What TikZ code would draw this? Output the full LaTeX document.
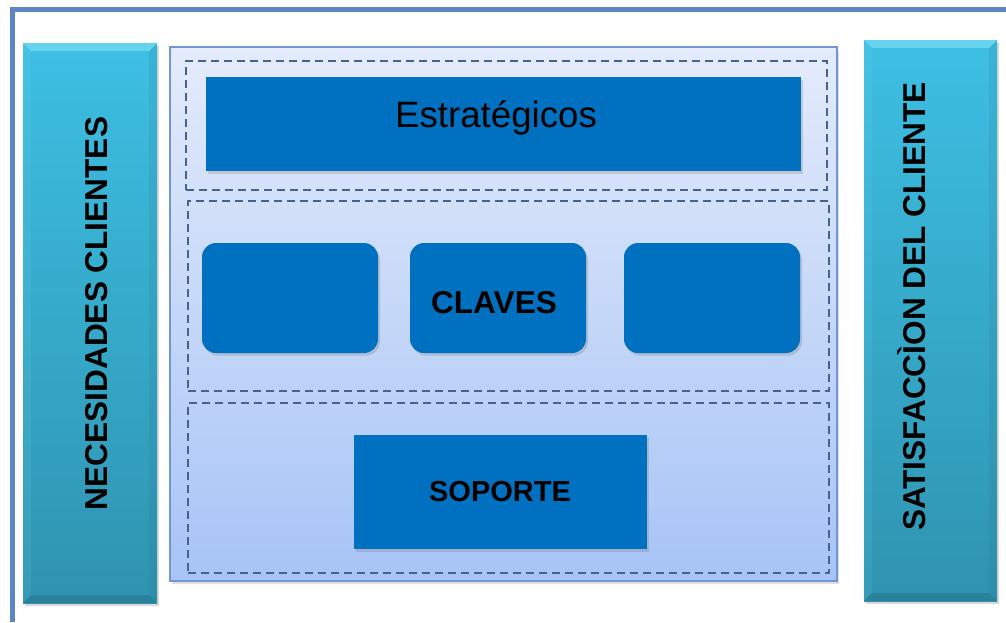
\documentclass[tikz,border=0pt]{standalone}
\usepackage{fontspec}
\setmainfont{Liberation Sans}
\usetikzlibrary{shadows}
\definecolor{frameblue}{HTML}{5B86C2}
\definecolor{barTop}{HTML}{3DBFE3}
\definecolor{barBot}{HTML}{2F93B0}
\definecolor{barLight}{HTML}{7ADCF3}
\definecolor{barDark}{HTML}{23687E}
\definecolor{panelTop}{HTML}{E4EBFB}
\definecolor{panelBot}{HTML}{A7C4F6}
\definecolor{panelBorder}{HTML}{7097D0}
\definecolor{dashcol}{HTML}{46638F}
\definecolor{boxblue}{HTML}{0070C0}
\begin{document}
\begin{tikzpicture}[x=0.75pt,y=-0.75pt,
  bar/.style={draw=none, top color=barTop, bottom color=barBot,
    inner sep=0pt, outer sep=0pt,
    drop shadow={shadow xshift=1.5pt, shadow yshift=-2pt, opacity=0.3}},
  panel/.style={draw=panelBorder, line width=1.3pt, top color=panelTop, bottom color=panelBot,
    inner sep=0pt, outer sep=0pt,
    drop shadow={shadow xshift=1.5pt, shadow yshift=-2pt, opacity=0.25}},
  dashbox/.style={draw=dashcol, line width=1.1pt, dash pattern=on 6pt off 3.75pt,
    inner sep=0pt, outer sep=0pt},
  bluebox/.style={fill=boxblue, draw=none, inner sep=0pt, outer sep=0pt,
    drop shadow={shadow xshift=1.5pt, shadow yshift=-2pt, opacity=0.3}},
  roundbox/.style={bluebox, rounded corners=10.5pt},
  vtext/.style={font=\fontsize{23.7}{28}\selectfont\bfseries, text=black, inner sep=0pt, rotate=90, anchor=base},
  ltext/.style={text=black, inner sep=0pt, anchor=base}
]
\useasboundingbox (0,0) rectangle (1006,622);
\fill[white] (0,0) rectangle (1006,622);

% outer frame (cut off at right and bottom)
\coordinate (fbl) at (12.5,622);
\coordinate (ftr) at (1006,9.5);
\draw[frameblue, line width=3.2pt] (fbl) |- (ftr);

% side bars
\node[bar, minimum width=134*0.75pt, minimum height=560*0.75pt] (lbar) at (90,323) {};
\node[bar, minimum width=133*0.75pt, minimum height=561*0.75pt] (rbar) at (930.5,320.5) {};
\foreach \b in {lbar,rbar}{
  \fill[barLight, opacity=0.7] (\b.north west) -- (\b.north east) -- ([shift={(-8,8)}]\b.north east) -- ([shift={(8,8)}]\b.north west) -- cycle;
  \fill[barLight, opacity=0.12] (\b.north west) -- ([shift={(8,8)}]\b.north west) -- ([shift={(8,-8)}]\b.south west) -- (\b.south west) -- cycle;
  \fill[barDark, opacity=0.12] (\b.north east) -- ([shift={(-8,8)}]\b.north east) -- ([shift={(-8,-8)}]\b.south east) -- (\b.south east) -- cycle;
  \fill[barDark, opacity=0.4] (\b.south west) -- (\b.south east) -- ([shift={(-8,-8)}]\b.south east) -- ([shift={(8,-8)}]\b.south west) -- cycle;
}
\node[vtext] (ltxt) at (107,313.5) {NECESIDADES CLIENTES};
\node[vtext] (rtxt) at (925,306.5) {SATISFACCÌON DEL CLIENTE};

% central panel
\node[panel, minimum width=667*0.75pt, minimum height=534*0.75pt] (panel) at (503.5,314) {};

% dashed groups
\node[dashbox, minimum width=641*0.75pt, minimum height=129*0.75pt] (g1) at (506.5,125.5) {};
\node[dashbox, minimum width=641*0.75pt, minimum height=190*0.75pt] (g2) at (508.5,296) {};
\node[dashbox, minimum width=641*0.75pt, minimum height=170*0.75pt] (g3) at (508.5,488) {};

% boxes
\node[bluebox, minimum width=595*0.75pt, minimum height=94*0.75pt] (estr) at (503.5,124) {};
\node[ltext, font=\fontsize{27.5}{32}\selectfont] (estrtxt) at (496,127) {Estratégicos};

\node[roundbox, minimum width=176*0.75pt, minimum height=110*0.75pt] (k1) at (290,298) {};
\node[roundbox, minimum width=176*0.75pt, minimum height=110*0.75pt] (k2) at (498,298) {};
\node[roundbox, minimum width=176*0.75pt, minimum height=110*0.75pt] (k3) at (712,298) {};
\node[ltext, font=\fontsize{23.7}{28}\selectfont\bfseries] (clavestxt) at (494,313) {CLAVES};

\node[bluebox, minimum width=293*0.75pt, minimum height=114*0.75pt] (sop) at (500.5,492) {};
\node[ltext, font=\fontsize{21.75}{26}\selectfont\bfseries] (soptxt) at (500,501) {SOPORTE};
\end{tikzpicture}
\end{document}
